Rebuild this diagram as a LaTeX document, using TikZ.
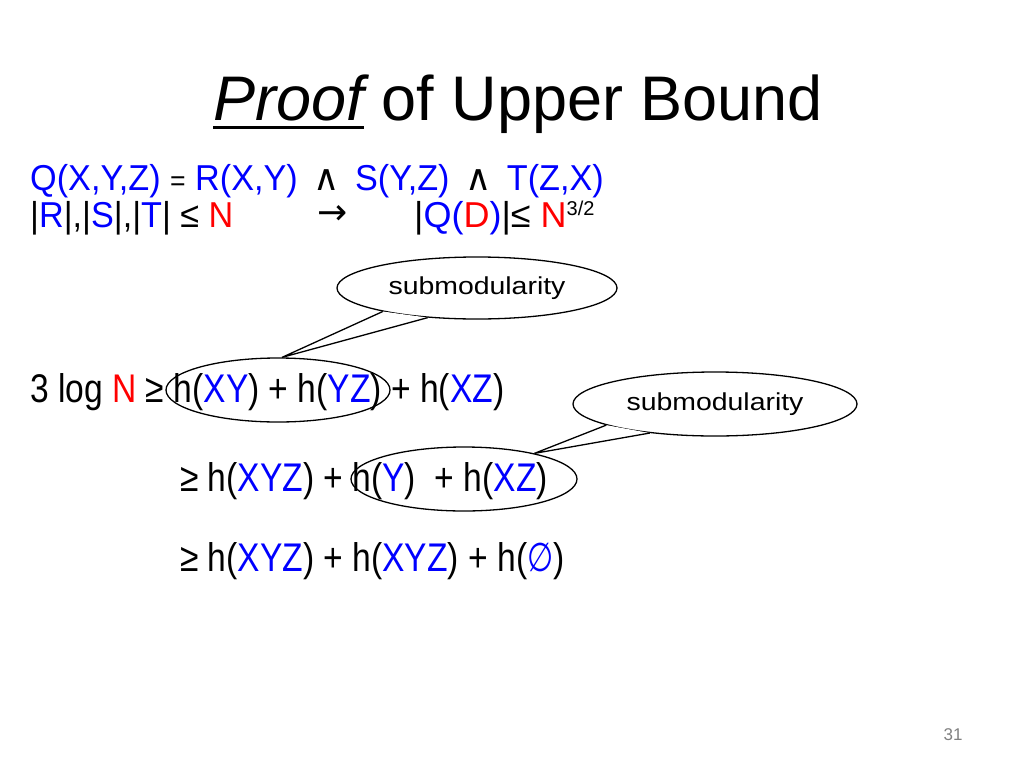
\documentclass[tikz,border=0pt]{standalone}
\usepackage{fontspec}
\setmainfont{Liberation Sans}
\newfontfamily\symfont{DejaVu Sans}
\newfontfamily\narrowsym[FakeStretch=0.75]{DejaVu Sans}
\newfontfamily\bodyfont[FakeStretch=0.95]{Liberation Sans}
\newfontfamily\stepfont[FakeStretch=0.84]{Liberation Sans}
\newfontfamily\notefont[FakeStretch=1.16]{Liberation Sans}
\usetikzlibrary{shapes.geometric}
\newcommand*{\titlesize}{\fontsize{63}{70}\selectfont}
\newcommand*{\bodysize }{\bodyfont\fontsize{36}{42}\selectfont}
\newcommand*{\stepsize }{\stepfont\fontsize{40}{46}\selectfont}
\newcommand*{\notesize }{\notefont\fontsize{24.5}{30}\selectfont}
\newcommand*{\bl}[1]{\textcolor{blue}{#1}}
\newcommand*{\rd}[1]{\textcolor{red}{#1}}
\newcommand*{\lhs}{30}
\newcommand*{\rhs}{180}
\tikzset{
    txt/.style    = {inner sep=0, anchor=base west},
    ring/.style   = {ellipse, draw, line width=1.3, inner sep=0},
    bubble/.style = {ellipse, draw, fill=white, line width=1.3, inner sep=0,
                     minimum width=280, minimum height=62, font=\notesize},
}

\begin{document}
\begin{tikzpicture}[x=1pt, y=-1pt]
    \useasboundingbox (0,0) rectangle (1024,768);
        \node [txt, font=\titlesize\itshape] (proof) at (213,120) {Proof};
        \node [txt, font=\titlesize] (title) at (proof.base east) {\ of Upper Bound};
        \draw [line width=3] ([yshift=-7pt]proof.base west) -- ([yshift=-7pt]proof.base east);
        \node [txt, font=\bodysize] (query) at (\lhs,190) {\bl{Q(X,Y,Z)} {\fontsize{28}{30}\selectfont =} \bl{R(X,Y)} \,{\symfont ∧}\, \bl{S(Y,Z)} \,{\symfont ∧}\, \bl{T(Z,X)}};
        \node [txt, font=\bodysize] (sizes) at (\lhs,227) {|\bl{R}|,|\bl{S}|,|\bl{T}| ≤ \rd{N}};
        \node [inner sep=0, font=\bodysize\symfont] (implies) at (333,215) {→};
        \node [txt, font=\fontsize{36}{42}\selectfont] (bound) at (414,227) {|\bl{Q(}\rd{D}\bl{)}|≤ \rd{N}\raisebox{12pt}{\fontsize{20}{24}\selectfont 3/2}};
        \node [txt, font=\stepsize] (step1) at (\lhs,402) {3 log \rd{N} ≥ h(\bl{XY}) + h(\bl{YZ}) + h(\bl{XZ})};
        \node [txt, font=\stepsize] (step2) at (\rhs,491) {≥ h(\bl{XYZ}) + h(\bl{Y})\ \ + h(\bl{XZ})};
        \node [txt, font=\stepsize] (step3) at (\rhs,571) {≥ h(\bl{XYZ}) + h(\bl{XYZ}) + h(\bl{\narrowsym ∅})};
        \node [ring, minimum width=224, minimum height=64] (ringA) at (278,390) {};
        \node [ring, minimum width=226, minimum height=64] (ringB) at (464,479) {};
        \node [bubble] (noteA) at (477,288) {submodularity};
        \node [bubble, minimum width=284, minimum height=64] (noteB) at (715,404) {submodularity};
        \fill [white] (noteA.-166) -- (ringA.83) -- (noteA.-149) -- cycle;
        \draw [line width=1.3] (noteA.-166) -- (ringA.83) -- (noteA.-149);
        \fill [white] (noteB.-169) -- (ringB.20) -- (noteB.-156) -- cycle;
        \draw [line width=1.3] (noteB.-169) -- (ringB.20) -- (noteB.-156);
        \node [inner sep=0, text=gray, font=\fontsize{17}{20}\selectfont] (pageno) at (953,735) {31};
    \end{tikzpicture}
\end{document}
